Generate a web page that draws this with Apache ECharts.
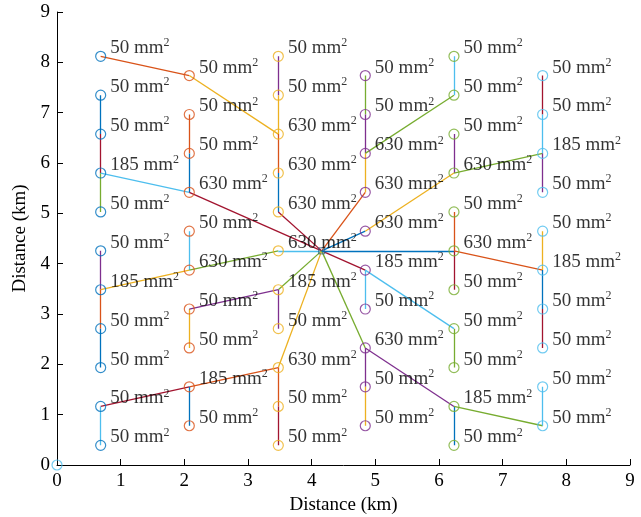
<!DOCTYPE html>
<html>
<head>
<meta charset="utf-8">
<script src="https://cdn.jsdelivr.net/npm/echarts@6/dist/echarts.min.js"></script>
<style>
html,body{margin:0;padding:0;background:#fff;}
#chart{width:641px;height:517px;}
</style>
</head>
<body>
<div id="chart"></div>
<script>
// ---- data ----
const columnX = [0.686, 2.078, 3.476, 4.842, 6.235, 7.628];
const rowsOdd = [8.12, 7.347, 6.574, 5.801, 5.028, 4.255, 3.482, 2.709, 1.936, 1.163, 0.39];
const rowsEven = [7.737, 6.964, 6.191, 5.418, 4.645, 3.872, 3.099, 2.326, 1.553, 0.78];
const columnY = [rowsOdd, rowsEven, rowsOdd, rowsEven, rowsOdd, rowsEven];
const columnLabels = [
  ['50','50','50','185','50','50','185','50','50','50','50'],
  ['50','50','50','630','50','630','50','50','185','50'],
  ['50','50','630','630','630','630','185','50','630','50','50'],
  ['50','50','630','630','630','185','50','630','50','50'],
  ['50','50','50','630','50','630','50','50','50','185','50'],
  ['50','50','185','50','50','185','50','50','50','50']
];
const substation = [4.157, 4.254];
const source = [0, 0];
// edges: node ids "column.index" (column 1-based, index from top), S = substation
const edges = [
  ['1.0','2.0'],['1.1','1.2'],['1.2','1.3'],['1.3','1.4'],['1.3','2.3'],['1.5','1.6'],
  ['1.6','1.7'],['1.6','2.5'],['1.7','1.8'],['1.9','2.8'],['1.9','1.10'],
  ['2.0','3.2'],['2.1','2.2'],['2.2','2.3'],['2.3','S'],['2.4','2.5'],['2.5','3.5'],
  ['2.6','2.7'],['2.6','3.6'],['2.8','3.8'],['2.8','2.9'],
  ['3.0','3.1'],['3.1','3.2'],['3.2','3.3'],['3.3','3.4'],['3.4','S'],['3.5','S'],
  ['3.6','S'],['3.6','3.7'],['3.8','S'],['3.8','3.9'],['3.9','3.10'],
  ['4.0','4.1'],['4.1','4.2'],['4.2','5.1'],['4.2','4.3'],['4.3','S'],['4.4','S'],
  ['4.4','5.3'],['4.5','S'],['4.5','4.6'],['4.5','5.7'],['4.7','S'],['4.7','4.8'],
  ['4.7','5.9'],['4.8','4.9'],
  ['5.0','5.1'],['5.2','5.3'],['5.3','6.2'],['5.4','5.5'],['5.5','S'],['5.5','5.6'],
  ['5.5','6.5'],['5.7','5.8'],['5.9','5.10'],['5.9','6.9'],
  ['6.0','6.1'],['6.1','6.2'],['6.2','6.3'],['6.4','6.5'],['6.5','6.6'],['6.6','6.7'],['6.8','6.9']
];

// ---- styles ----
const palette = ['#0072BD','#D95319','#EDB120','#7E2F8E','#77AC30','#4DBEEE','#A2142F'];
const edgeColorIdx = [
  1,0,6,4,5,3,1,2,0,6,5,
  2,1,0,6,5,4,2,3,1,0,
  3,2,1,0,6,5,4,3,2,1,6,
  4,3,4,2,1,0,2,6,5,5,4,3,3,2,
  5,3,4,1,0,6,1,4,0,4,
  6,5,3,2,0,6,5
];
const FONT = 'Liberation Serif';

function nodePos(id) {
  if (id === 'S') return substation;
  const [c, i] = id.split('.').map(Number);
  return [columnX[c - 1], columnY[c - 1][i]];
}

const lineData = edges.map((e, k) => ({
  coords: [nodePos(e[0]), nodePos(e[1])],
  lineStyle: { color: palette[edgeColorIdx[k]] }
}));

const labelRich = {
  txt: { fontFamily: FONT, fontSize: 19, color: '#000', lineHeight: 22 },
  sup: { fontFamily: FONT, fontSize: 12, color: '#000', lineHeight: 13, verticalAlign: 'top' }
};

const nodeSeries = columnX.map((x, c) => ({
  type: 'scatter',
  symbol: 'circle',
  symbolSize: 10,
  clip: false,
  z: 3,
  itemStyle: { color: 'rgba(0,0,0,0)', borderColor: palette[c], borderWidth: 1.2 },
  label: {
    show: true, position: 'right', distance: 4, offset: [0, -8],
    fontFamily: FONT, fontSize: 19, color: '#000',
    formatter: p => '{txt|' + p.value[2] + ' mm}{sup|2}',
    rich: labelRich
  },
  emphasis: { disabled: true },
  data: columnY[c].map((y, i) => [x, y, columnLabels[c][i]])
}));

const option = {
  animation: false,
  backgroundColor: '#fff',
  textStyle: { fontFamily: FONT },
  grid: { left: 57, right: 11, top: 12, bottom: 52, containLabel: false, outerBoundsMode: 'none' },
  xAxis: {
    type: 'value', min: 0, max: 9, interval: 1,
    name: 'Distance (km)', nameLocation: 'middle', nameGap: 30,
    nameTextStyle: { fontFamily: FONT, fontSize: 19, color: '#000' },
    axisLine: { show: true, onZero: false, lineStyle: { color: '#000', width: 1 } },
    axisTick: { show: true, inside: true, length: 6, lineStyle: { color: '#000' } },
    axisLabel: { fontFamily: FONT, fontSize: 19, color: '#000', margin: 7 },
    splitLine: { show: false }
  },
  yAxis: {
    type: 'value', min: 0, max: 9, interval: 1,
    name: 'Distance (km)', nameLocation: 'middle', nameGap: 22,
    nameTextStyle: { fontFamily: FONT, fontSize: 19, color: '#000' },
    axisLine: { show: true, onZero: false, lineStyle: { color: '#000', width: 1 } },
    axisTick: { show: true, inside: true, length: 6, lineStyle: { color: '#000' } },
    axisLabel: { fontFamily: FONT, fontSize: 19, color: '#000', margin: 7 },
    splitLine: { show: false }
  },
  series: [
    {
      type: 'lines', coordinateSystem: 'cartesian2d', z: 2,
      lineStyle: { width: 1.3, opacity: 1 },
      emphasis: { disabled: true },
      data: lineData
    },
    ...nodeSeries,
    {
      type: 'scatter', symbol: 'circle', symbolSize: 10, clip: false, z: 3,
      itemStyle: { color: 'rgba(0,0,0,0)', borderColor: palette[5], borderWidth: 1.2 },
      emphasis: { disabled: true },
      data: [source]
    },
    {
      type: 'scatter', symbol: 'rect', symbolSize: 6, clip: false, z: 3,
      itemStyle: { color: 'rgba(0,0,0,0)', borderColor: '#2f5f7f', borderWidth: 1 },
      emphasis: { disabled: true },
      data: [substation]
    }
  ]
};

const chart = echarts.init(document.getElementById('chart'), null, { renderer: 'canvas' });
chart.setOption(option);
</script>
</body>
</html>
